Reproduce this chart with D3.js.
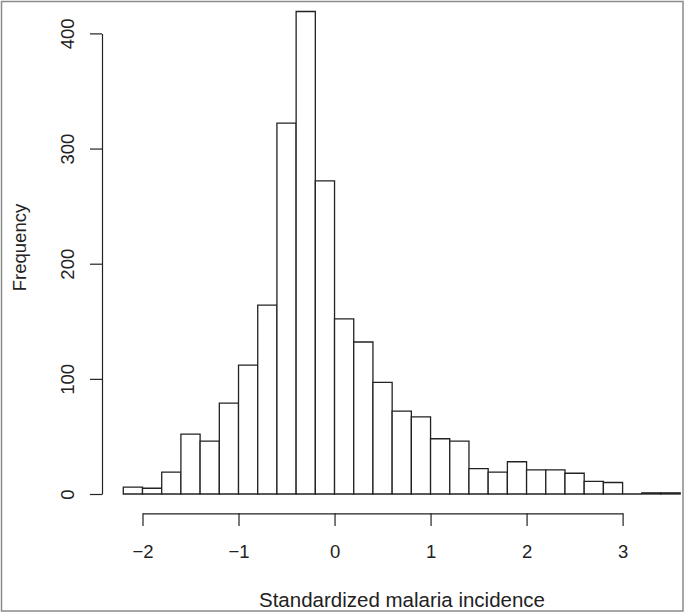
<!DOCTYPE html>
<html>
<head>
<meta charset="utf-8">
<script src="https://cdn.jsdelivr.net/npm/d3@7"></script>
<style>
  html, body { margin: 0; padding: 0; background: #fff; }
  svg { display: block; }
  text { font-family: "Liberation Sans", Arial, Helvetica, sans-serif; fill: #222; }
</style>
</head>
<body>
<svg id="chart" width="685" height="613"></svg>
<script>
// Histogram data: bins of width 0.2 starting at -2.2
const binStarts = [-2.2, -2.0, -1.8, -1.6, -1.4, -1.2, -1.0, -0.8, -0.6, -0.4, -0.2,
                   0.0, 0.2, 0.4, 0.6, 0.8, 1.0, 1.2, 1.4, 1.6, 1.8, 2.0, 2.2, 2.4,
                   2.6, 2.8, 3.0, 3.2, 3.4];
const binWidth = 0.2;
const counts = [6, 5, 19, 52, 46, 79, 112, 164, 322, 419, 272,
                152, 132, 97, 72, 67, 48, 46, 22, 19, 28, 21, 21, 18,
                11, 10, 0, 1, 1];
const xTicks = [-2, -1, 0, 1, 2, 3];
const yTicks = [0, 100, 200, 300, 400];
const xLabel = "Standardized malaria incidence";
const yLabel = "Frequency";

const svg = d3.select("#chart");
const W = 685, H = 613;

const x = d3.scaleLinear().domain([-2, 3]).range([142.5, 622.6]);
const y = d3.scaleLinear().domain([0, 400]).range([494, 33.4]);

const bins = binStarts.map((s, i) => ({ x0: s, x1: s + binWidth, n: counts[i] }));

// bars (as closed paths so that empty bins still show their base line)
svg.append("g")
  .selectAll("path")
  .data(bins)
  .join("path")
  .attr("d", d => {
    const a = x(d.x0), b = x(d.x1), y0 = y(0), yt = y(d.n);
    return `M${a},${y0}V${yt}H${b}V${y0}Z`;
  })
  .attr("fill", "#fff")
  .attr("stroke", "#222")
  .attr("stroke-width", 1.3);

const fmt = d3.format("d");

// y axis
const gy = svg.append("g")
  .attr("transform", "translate(102,0)")
  .call(d3.axisLeft(y).tickValues(yTicks).tickFormat(fmt).tickSize(12).tickSizeOuter(0));
gy.select(".domain").attr("stroke", "#222").attr("stroke-width", 1.2);
gy.selectAll(".tick line").attr("stroke", "#222").attr("stroke-width", 1.2);
gy.selectAll(".tick text")
  .attr("x", 0).attr("y", 0).attr("dy", 0)
  .attr("transform", "translate(-28,0) rotate(-90)")
  .attr("text-anchor", "middle")
  .style("font-size", "18.5px")
  .style("font-family", "'Liberation Sans', Arial, sans-serif")
  .attr("fill", "#222");

// x axis
const gx = svg.append("g")
  .attr("transform", "translate(0,513.3)")
  .call(d3.axisBottom(x).tickValues(xTicks).tickFormat(fmt).tickSize(12.7).tickSizeOuter(0));
gx.select(".domain").attr("stroke", "#222").attr("stroke-width", 1.2);
gx.selectAll(".tick line").attr("stroke", "#222").attr("stroke-width", 1.2);
gx.selectAll(".tick text")
  .attr("y", 44.7).attr("dy", 0)
  .style("font-size", "18.5px")
  .style("font-family", "'Liberation Sans', Arial, sans-serif")
  .attr("fill", "#222");

// axis titles
svg.append("text")
  .attr("x", 402).attr("y", 607)
  .attr("text-anchor", "middle")
  .style("font-size", "20.5px")
  .text(xLabel);

svg.append("text")
  .attr("transform", "translate(26,247.5) rotate(-90)")
  .attr("text-anchor", "middle")
  .style("font-size", "18.5px")
  .text(yLabel);

// outer frame
svg.append("rect")
  .attr("x", 1.5).attr("y", 1.5)
  .attr("width", W - 3.5).attr("height", H - 3.5)
  .attr("fill", "none")
  .attr("stroke", "#8a8a8a")
  .attr("stroke-width", 1.5);
</script>
</body>
</html>
